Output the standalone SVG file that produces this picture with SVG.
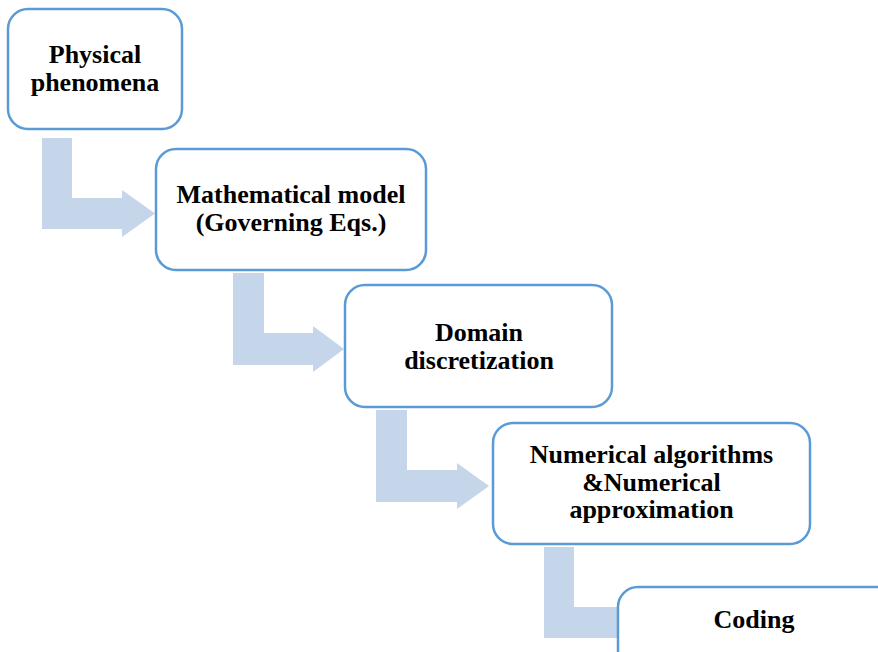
<svg xmlns="http://www.w3.org/2000/svg" width="878" height="652" viewBox="0 0 878 652">
<style>
.box{fill:#fff;stroke:#5B9BD5;stroke-width:2.5}
.arr{fill:#C5D5EA;stroke:none}
text{font-family:"Liberation Serif","Times New Roman",serif;font-weight:bold;font-size:26px;fill:#000;text-anchor:middle}
</style>
<rect width="878" height="652" fill="#fff"/>
<g id="connectors">
<polygon class="arr" points="42,138 72,138 72,198 122,198 122,190 155,213.5 122,237 122,229 42,229"/>
<polygon class="arr" points="233,273 264,273 264,333 313,333 313,326 344,349 313,372 313,365 233,365"/>
<polygon class="arr" points="376,410 407,410 407,470 457,470 457,463 489,486 457,509 457,502 376,502"/>
<polygon class="arr" points="544,547 574,547 574,607 625,607 625,600 657,622.5 625,645 625,638 544,638"/>
</g>
<g id="node1">
<rect class="box" x="8" y="9" width="174" height="120" rx="20"/>
<text x="95" y="63">Physical</text>
<text x="95" y="91">phenomena</text>
</g>
<g id="node2">
<rect class="box" x="156" y="149" width="270" height="121" rx="20"/>
<text x="291" y="203">Mathematical model</text>
<text x="291" y="231">(Governing Eqs.)</text>
</g>
<g id="node3">
<rect class="box" x="345" y="285" width="267" height="122" rx="20"/>
<text x="479" y="341">Domain</text>
<text x="479" y="369">discretization</text>
</g>
<g id="node4">
<rect class="box" x="493" y="423" width="317" height="121" rx="20"/>
<text x="651.5" y="463">Numerical algorithms</text>
<text x="651.5" y="491">&amp;Numerical</text>
<text x="651.5" y="518">approximation</text>
</g>
<g id="node5">
<rect class="box" x="618" y="587" width="280" height="130" rx="20"/>
<text x="754" y="628">Coding</text>
</g>
</svg>
